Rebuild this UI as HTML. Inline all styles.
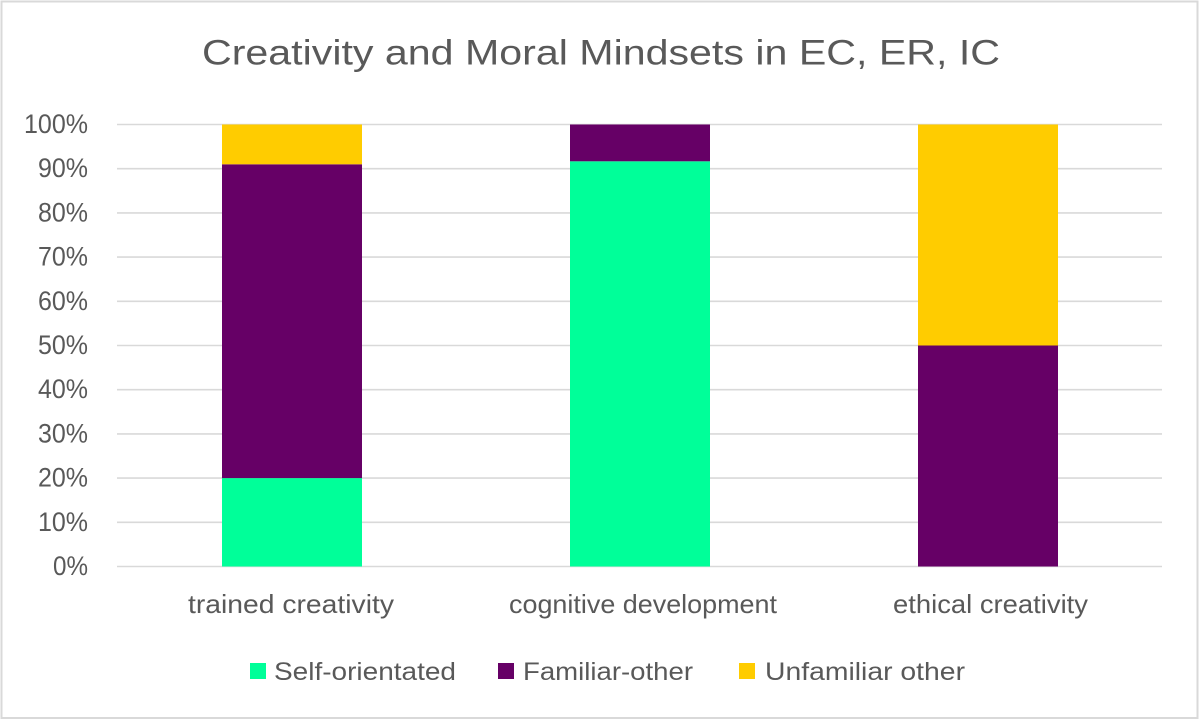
<!DOCTYPE html>
<html>
<head>
<meta charset="utf-8">
<style>
  html, body { margin: 0; padding: 0; background: #ffffff; }
  body { width: 1200px; height: 721px; overflow: hidden; }
  svg { display: block; }
  text { font-family: "Liberation Sans", "DejaVu Sans", sans-serif; fill: #595959; }
</style>
</head>
<body>
<svg width="1200" height="721" viewBox="0 0 1200 721" xmlns="http://www.w3.org/2000/svg">
  <rect x="0" y="0" width="1200" height="721" fill="#ffffff"/>
  <rect x="1.5" y="1.5" width="1196" height="716.5" fill="#ffffff" stroke="#d9d9d9" stroke-width="2"/>

  <!-- Title -->
  <text x="202" y="64.5" font-size="35" textLength="798" lengthAdjust="spacingAndGlyphs">Creativity and Moral Mindsets in EC, ER, IC</text>

  <!-- Gridlines -->
  <g stroke="#d9d9d9" stroke-width="1.6">
    <line x1="117" y1="124.5" x2="1162" y2="124.5"/>
    <line x1="117" y1="168.7" x2="1162" y2="168.7"/>
    <line x1="117" y1="212.9" x2="1162" y2="212.9"/>
    <line x1="117" y1="257.1" x2="1162" y2="257.1"/>
    <line x1="117" y1="301.3" x2="1162" y2="301.3"/>
    <line x1="117" y1="345.5" x2="1162" y2="345.5"/>
    <line x1="117" y1="389.7" x2="1162" y2="389.7"/>
    <line x1="117" y1="433.9" x2="1162" y2="433.9"/>
    <line x1="117" y1="478.1" x2="1162" y2="478.1"/>
    <line x1="117" y1="522.3" x2="1162" y2="522.3"/>
    <line x1="117" y1="566.5" x2="1162" y2="566.5"/>
  </g>

  <!-- Y-axis labels -->
  <g font-size="27" text-anchor="end">
    <text x="88" y="133" textLength="64" lengthAdjust="spacingAndGlyphs">100%</text>
    <text x="88" y="177.2" textLength="50" lengthAdjust="spacingAndGlyphs">90%</text>
    <text x="88" y="221.4" textLength="50" lengthAdjust="spacingAndGlyphs">80%</text>
    <text x="88" y="265.6" textLength="50" lengthAdjust="spacingAndGlyphs">70%</text>
    <text x="88" y="309.8" textLength="50" lengthAdjust="spacingAndGlyphs">60%</text>
    <text x="88" y="354" textLength="50" lengthAdjust="spacingAndGlyphs">50%</text>
    <text x="88" y="398.2" textLength="50" lengthAdjust="spacingAndGlyphs">40%</text>
    <text x="88" y="442.4" textLength="50" lengthAdjust="spacingAndGlyphs">30%</text>
    <text x="88" y="486.6" textLength="50" lengthAdjust="spacingAndGlyphs">20%</text>
    <text x="88" y="530.8" textLength="50" lengthAdjust="spacingAndGlyphs">10%</text>
    <text x="88" y="575" textLength="35" lengthAdjust="spacingAndGlyphs">0%</text>
  </g>

  <!-- Bar 1: trained creativity -->
  <rect x="222" y="478.1" width="140" height="88.4" fill="#00ff99"/>
  <rect x="222" y="164.3" width="140" height="313.8" fill="#660066"/>
  <rect x="222" y="124.5" width="140" height="39.8" fill="#ffcc00"/>

  <!-- Bar 2: cognitive development -->
  <rect x="570" y="161.3" width="140" height="405.2" fill="#00ff99"/>
  <rect x="570" y="124.5" width="140" height="36.8" fill="#660066"/>

  <!-- Bar 3: ethical creativity -->
  <rect x="918" y="345.5" width="140" height="221" fill="#660066"/>
  <rect x="918" y="124.5" width="140" height="221" fill="#ffcc00"/>

  <!-- Category labels -->
  <g font-size="26">
    <text x="188" y="613" textLength="206" lengthAdjust="spacingAndGlyphs">trained creativity</text>
    <text x="509" y="613" textLength="268" lengthAdjust="spacingAndGlyphs">cognitive development</text>
    <text x="893" y="613" textLength="195" lengthAdjust="spacingAndGlyphs">ethical creativity</text>
  </g>

  <!-- Legend -->
  <rect x="250" y="663" width="16" height="16" fill="#00ff99"/>
  <text x="274" y="680" font-size="25" textLength="182" lengthAdjust="spacingAndGlyphs">Self-orientated</text>
  <rect x="498" y="663" width="16" height="16" fill="#660066"/>
  <text x="523" y="680" font-size="25" textLength="170" lengthAdjust="spacingAndGlyphs">Familiar-other</text>
  <rect x="739" y="663" width="16" height="16" fill="#ffcc00"/>
  <text x="765" y="680" font-size="25" textLength="200" lengthAdjust="spacingAndGlyphs">Unfamiliar other</text>
</svg>
</body>
</html>
